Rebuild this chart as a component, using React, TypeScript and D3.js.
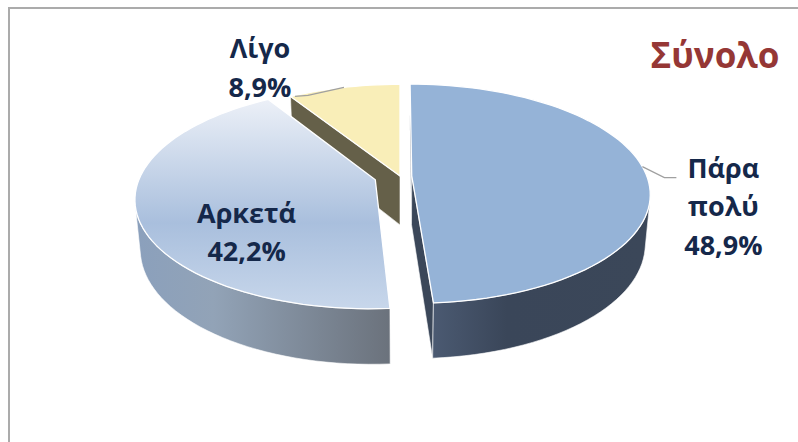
import * as d3 from "d3";

// data
const categories = ["Πάρα πολύ", "Αρκετά", "Λίγο"];
const values = [48.9, 42.2, 8.9];
const valueLabels = ["48,9%", "42,2%", "8,9%"];
const labelLines = [["Πάρα", "πολύ"], ["Αρκετά"], ["Λίγο"]];
const title = "Σύνολο";

// styles
const topColors = ["#95b3d7", "url(#arkTop)", "#f9eeb8"];
const sideColors = ["url(#blueSide)", "url(#arkSide)", "#656049"];
const wallColors = ["#3b4759", "#7b8594", "#656049"];
const explode = [0.05, 0.11, 0];

const W = 798;
const H = 442;

// simple perspective camera looking down on a unit pie
const cx = 400;
const cy = 176;
const focal = 1281;
const dist = 5.45;
const tilt = (27 * Math.PI) / 180;
const thick = 0.238;
const sT = Math.sin(tilt);
const cT = Math.cos(tilt);
const cam = { x: 0, z: -dist * cT };

function project(x: number, z: number, y: number): [number, number] {
  const yc = z * sT + y * cT;
  const zc = dist + z * cT - y * sT;
  return [cx + (focal * x) / zc, cy - (focal * yc) / zc];
}

const line = d3.line();
const font = "'Open Sans', 'Liberation Sans', sans-serif";

export default function App() {
  const arcs = d3
    .pie<number>()
    .sort(null)
    .startAngle(0)
    .endAngle(2 * Math.PI)(values);

  const slices = arcs.map((a, i) => {
    const mid = (a.startAngle + a.endAngle) / 2;
    const ox = explode[i] * Math.sin(mid);
    const oz = explode[i] * Math.cos(mid);
    const pt = (ang: number, r: number, y: number) =>
      project(ox + r * Math.sin(ang), oz + r * Math.cos(ang), y);
    const n = Math.max(4, Math.ceil(((a.endAngle - a.startAngle) / (2 * Math.PI)) * 160));
    const angs = d3.range(n + 1).map((k) => a.startAngle + ((a.endAngle - a.startAngle) * k) / n);
    return { a, i, mid, ox, oz, pt, angs };
  });

  // faces below the top plane: radial walls and outer curved side
  const faces: { d: string; fill: string; depth: number; key: string }[] = [];
  slices.forEach((s) => {
    const { a, i, ox, oz, pt, angs } = s;
    // radial walls
    [a.startAngle, a.endAngle].forEach((ang, w) => {
      const nx = w === 0 ? -Math.cos(ang) : Math.cos(ang);
      const nz = w === 0 ? Math.sin(ang) : -Math.sin(ang);
      const vis = (cam.x - ox) * nx + (cam.z - oz) * nz > 0;
      if (!vis) return;
      const pts = [pt(ang, 0, 0), pt(ang, 1, 0), pt(ang, 1, -thick), pt(ang, 0, -thick)];
      const mx = ox + 0.5 * Math.sin(ang);
      const mz = oz + 0.5 * Math.cos(ang);
      faces.push({
        d: line(pts) + "Z",
        fill: wallColors[i],
        depth: Math.hypot(mx - cam.x, mz - cam.z),
        key: `w${i}${w}`,
      });
    });
    // outer side, visible runs only
    let run: number[] = [];
    const runs: number[][] = [];
    angs.forEach((ang) => {
      const px = ox + Math.sin(ang);
      const pz = oz + Math.cos(ang);
      const v = (cam.x - px) * Math.sin(ang) + (cam.z - pz) * Math.cos(ang) > 0;
      if (v) run.push(ang);
      else if (run.length) {
        runs.push(run);
        run = [];
      }
    });
    if (run.length) runs.push(run);
    runs.forEach((r, k) => {
      if (r.length < 2) return;
      const pts = [...r.map((g) => pt(g, 1, 0)), ...r.slice().reverse().map((g) => pt(g, 1, -thick))];
      const m = r[Math.floor(r.length / 2)];
      faces.push({
        d: line(pts) + "Z",
        fill: sideColors[i],
        depth: Math.hypot(ox + Math.sin(m) - cam.x, oz + Math.cos(m) - cam.z) - 0.5,
        key: `s${i}${k}`,
      });
    });
  });
  faces.sort((p, q) => q.depth - p.depth);

  const tops = slices.map((s) => ({
    d: line([s.pt(0, 0, 0), ...s.angs.map((g) => s.pt(g, 1, 0))]) + "Z",
    fill: topColors[s.i],
    key: `t${s.i}`,
  }));

  // labels
  const big = slices[0].pt(85 * (Math.PI / 180), 1, 0);
  const small = slices[2].pt(slices[2].mid, 1, 0);
  const inner = slices[1].pt(slices[1].mid, 0.62, 0);
  const lh = 38.5;

  const labels = [
    {
      x: big[0] + 81,
      y: big[1] + 11,
      lines: [...labelLines[0], valueLabels[0]],
      leader: [big, [big[0] + 22, big[1] + 11], [big[0] + 34, big[1] + 11]] as [number, number][],
    },
    {
      x: inner[0] + 16,
      y: inner[1] + 22,
      lines: [...labelLines[1], valueLabels[1]],
      leader: null,
    },
    {
      x: small[0] - 84,
      y: small[1] - 29,
      lines: [...labelLines[2], valueLabels[2]],
      leader: [small, [small[0] - 36, small[1] + 8], [small[0] - 49, small[1] + 9]] as [number, number][],
    },
  ];

  return (
    <svg
      width={W}
      height={H}
      style={{ position: "absolute", left: 0, top: 0, background: "#fff" }}
      aria-label={categories.join(", ")}
    >
      <defs>
        <linearGradient id="arkTop" gradientUnits="userSpaceOnUse" x1="0" y1="92" x2="0" y2="310">
          <stop offset="0" stopColor="#f0f3f9" />
          <stop offset="0.6" stopColor="#a9bfdd" />
          <stop offset="1" stopColor="#c8d7eb" />
        </linearGradient>
        <linearGradient id="arkSide" gradientUnits="userSpaceOnUse" x1="138" y1="0" x2="390" y2="0">
          <stop offset="0" stopColor="#8ba0bc" />
          <stop offset="0.3" stopColor="#92a3b7" />
          <stop offset="1" stopColor="#6b727c" />
        </linearGradient>
        <linearGradient id="blueSide" gradientUnits="userSpaceOnUse" x1="432" y1="0" x2="645" y2="0">
          <stop offset="0" stopColor="#4b5a72" />
          <stop offset="0.35" stopColor="#3a4659" />
          <stop offset="1" stopColor="#3b4759" />
        </linearGradient>
      </defs>

      <line x1={8} y1={8} x2={W} y2={8} stroke="#ababab" strokeWidth={2} />
      <line x1={9} y1={7} x2={9} y2={H} stroke="#ababab" strokeWidth={2} />

      {faces.map((f) => (
        <path key={f.key} d={f.d} fill={f.fill} stroke="#fff" strokeWidth={0.6} strokeLinejoin="round" />
      ))}
      {tops.map((t) => (
        <path key={t.key} d={t.d} fill={t.fill} stroke="#fff" strokeWidth={1.3} strokeLinejoin="round" />
      ))}

      {labels.map((l, i) =>
        l.leader ? (
          <path key={`ld${i}`} d={line(l.leader) || ""} fill="none" stroke="#a0a0a0" strokeWidth={1.3} />
        ) : null
      )}
      {labels.map((l, i) => (
        <text
          key={`lb${i}`}
          x={l.x}
          y={l.y}
          textAnchor="middle"
          fontFamily={font}
          fontWeight="bold"
          fontSize={27}
          fill="#15284a"
        >
          {l.lines.map((t, k) => (
            <tspan key={k} x={l.x} y={l.y + k * lh}>
              {t}
            </tspan>
          ))}
        </text>
      ))}

      <text x={715} y={68} textAnchor="middle" fontFamily={font} fontWeight="bold" fontSize={35} fill="#953735">
        {title}
      </text>
    </svg>
  );
}
